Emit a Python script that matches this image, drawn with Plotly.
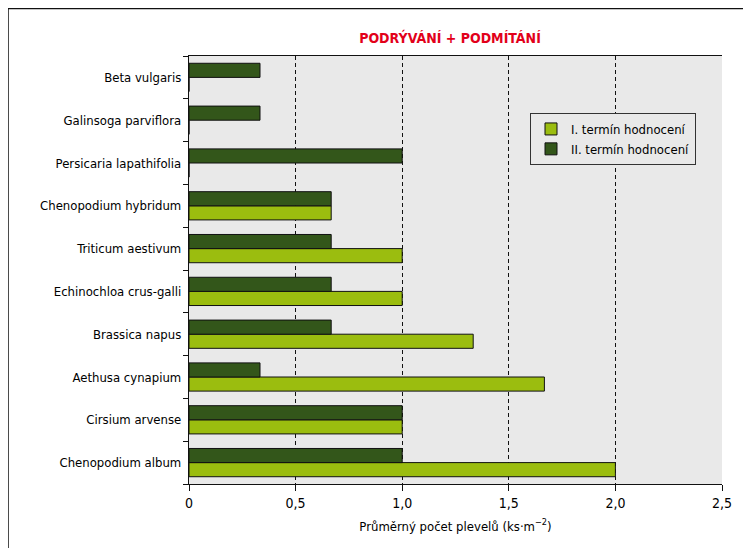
import plotly.graph_objects as go

categories = [
    "Chenopodium album",
    "Cirsium arvense",
    "Aethusa cynapium",
    "Brassica napus",
    "Echinochloa crus-galli",
    "Triticum aestivum",
    "Chenopodium hybridum",
    "Persicaria lapathifolia",
    "Galinsoga parviflora",
    "Beta vulgaris",
]
termin_I = [2.0, 1.0, 1.667, 1.333, 1.0, 1.0, 0.667, 0, 0, 0]
termin_II = [1.0, 1.0, 0.333, 0.667, 0.667, 0.667, 0.667, 1.0, 0.333, 0.333]
tick_vals = [0, 0.5, 1.0, 1.5, 2.0, 2.5]
tick_text = ["0", "0,5", "1,0", "1,5", "2,0", "2,5"]

FONT = "DejaVu Sans Condensed, Liberation Sans Narrow, Arial Narrow, sans-serif"

fig = go.Figure()
fig.add_trace(go.Bar(
    y=categories, x=termin_I, orientation="h", name="I. termín hodnocení",
    marker=dict(color="#9bbd0f", line=dict(color="#111111", width=1)),
))
fig.add_trace(go.Bar(
    y=categories, x=termin_II, orientation="h", name="II. termín hodnocení",
    marker=dict(color="#33561a", line=dict(color="#111111", width=1)),
))

# the page places the figure with an 8px body offset; positions below are
# given in screen pixels and converted to figure pixels
OFF = 8
W, H = 751, 548
L, R, T, B = 189 - OFF, 722 - OFF, 56 - OFF, 484 - OFF
pw, ph = R - L, B - T

def px_x(p):
    return (p - OFF - L) / pw

def px_y(p):
    return (B - (p - OFF)) / ph

fig.update_layout(
    width=W, height=H,
    margin=dict(l=L, r=W - R, t=T, b=H - B, autoexpand=False),
    paper_bgcolor="white",
    plot_bgcolor="#e9e9e9",
    barmode="group",
    bargap=0.34,
    bargroupgap=0,
    font=dict(family=FONT, size=13, color="#000000"),
    title=dict(
        text="<b>PODRÝVÁNÍ + PODMÍTÁNÍ</b>",
        font=dict(family=FONT, size=14, color="#e2001a"),
        x=(450 - OFF) / W, xanchor="center",
        y=1 - (38 - OFF) / H, yanchor="middle",
    ),
    legend=dict(
        x=px_x(530), y=px_y(113), xanchor="left", yanchor="top",
        bgcolor="#e9e9e9", bordercolor="#333333", borderwidth=1,
        traceorder="normal",
        font=dict(family=FONT, size=13, color="#000000"),
    ),
    xaxis=dict(
        range=[0, 2.5], automargin=False,
        tickvals=tick_vals, ticktext=tick_text,
        tickfont=dict(family=FONT, size=14, color="#000000"),
        showgrid=True, gridcolor="#111111", griddash="4px,3px", gridwidth=1,
        showline=True, linecolor="#111111", linewidth=1.3, mirror=True,
        ticks="outside", ticklen=6, tickcolor="#111111",
        zeroline=False,
        title=dict(text="Průměrný počet plevelů (ks·m<sup>−2</sup>)", standoff=11,
                   font=dict(family=FONT, size=13, color="#000000")),
    ),
    yaxis=dict(
        type="category", automargin=False,
        categoryorder="array", categoryarray=categories,
        tickfont=dict(family=FONT, size=13, color="#000000"),
        showgrid=False,
        showline=True, linecolor="#111111", linewidth=1.3,
        ticks="outside", ticklen=5, tickcolor="#111111", tickson="boundaries",
        ticklabelstandoff=4,
        zeroline=False,
    ),
    shapes=[dict(
        type="rect", xref="paper", yref="paper",
        x0=px_x(8), x1=px_x(780), y0=px_y(580), y1=px_y(8.5),
        line=dict(color="#111111", width=1.5), fillcolor="rgba(0,0,0,0)",
        layer="above",
    )],
)

fig.write_html("out.html")
